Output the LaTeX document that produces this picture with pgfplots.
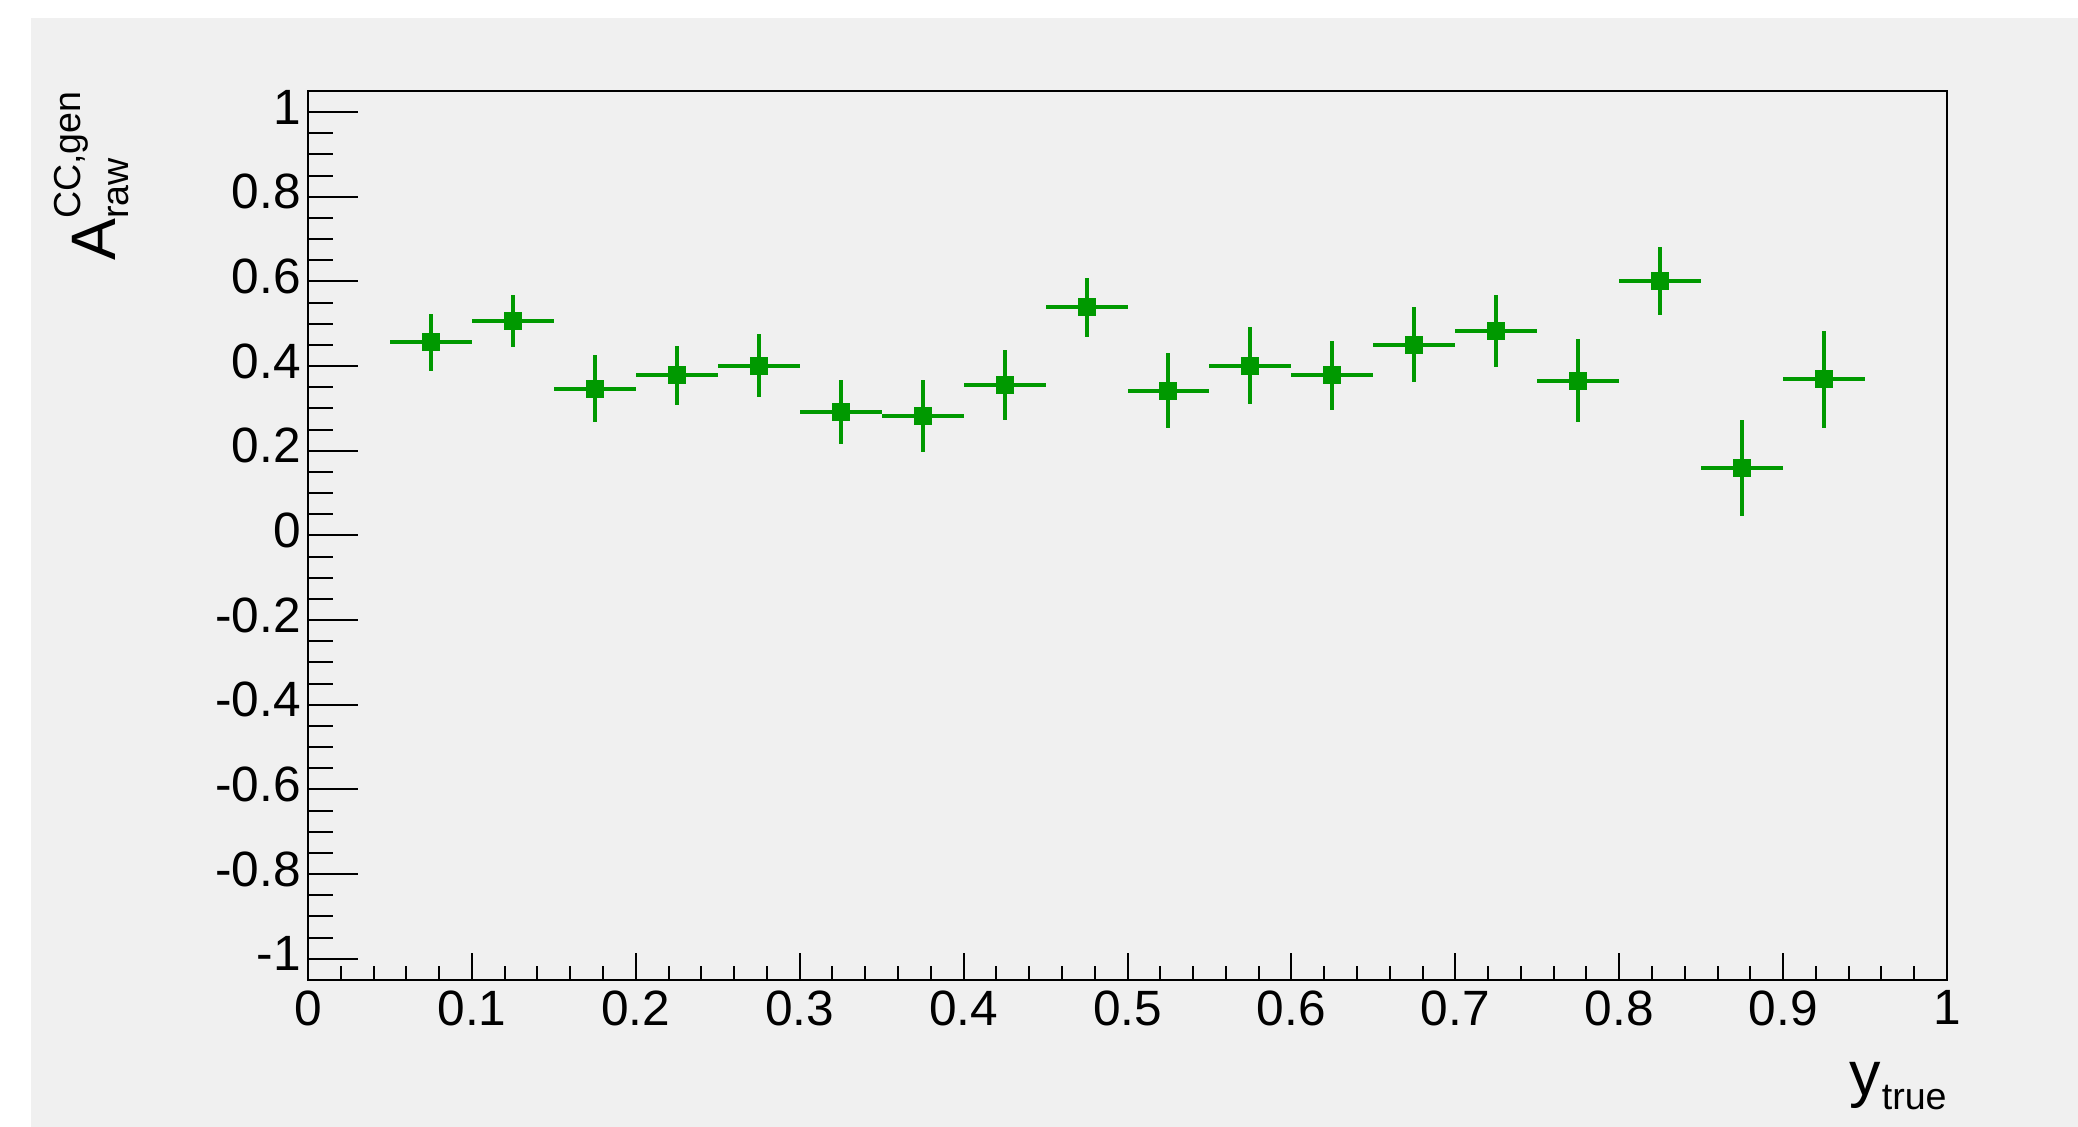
\documentclass[border=0pt]{standalone}
\usepackage{fontspec}
\setmainfont{Liberation Sans}
\usepackage{pgfplots}
\pgfplotsset{compat=1.18}
\usepackage{pgfplotstable}

\definecolor{canvasgray}{RGB}{240,240,240}
\definecolor{rootgreen}{RGB}{0,153,0}

% bin centre, asymmetry, half bin width, statistical error
\pgfplotstableread{
x      y      ex     ey
0.075  0.456  0.025  0.067
0.125  0.507  0.025  0.062
0.175  0.347  0.025  0.080
0.225  0.378  0.025  0.070
0.275  0.401  0.025  0.075
0.325  0.291  0.025  0.076
0.375  0.283  0.025  0.085
0.425  0.355  0.025  0.083
0.475  0.539  0.025  0.069
0.525  0.342  0.025  0.089
0.575  0.401  0.025  0.091
0.625  0.378  0.025  0.082
0.675  0.451  0.025  0.089
0.725  0.484  0.025  0.085
0.775  0.365  0.025  0.098
0.825  0.602  0.025  0.080
0.875  0.159  0.025  0.113
0.925  0.369  0.025  0.114
}\asymdata

\begin{document}
\begin{tikzpicture}
\useasboundingbox (0,0) rectangle (1039pt,563.5pt);
\fill[white] (0,0) rectangle (1039pt,563.5pt);
\fill[canvasgray] (15.5pt,0) rectangle (1039pt,554.5pt);
\begin{axis}[
  at={(154pt,73.5pt)}, anchor=south west,
  scale only axis, width=819.5pt, height=444.5pt,
  xmin=0, xmax=1, ymin=-1.05, ymax=1.05,
  axis line style={line width=1pt, black},
  tick align=inside,
  xtick pos=bottom, ytick pos=left,
  xtick={0,0.1,0.2,0.3,0.4,0.5,0.6,0.7,0.8,0.9,1},
  ytick={-1,-0.8,-0.6,-0.4,-0.2,0,0.2,0.4,0.6,0.8,1},
  minor x tick num=4, minor y tick num=3,
  major x tick style={line width=1pt, black, /pgfplots/major tick length=13.5pt},
  minor x tick style={line width=1pt, black, /pgfplots/minor tick length=6.75pt},
  major y tick style={line width=1pt, black, /pgfplots/major tick length=25pt},
  minor y tick style={line width=1pt, black, /pgfplots/minor tick length=12.5pt},
  /pgf/number format/assume math mode=true,
  ticklabel style={font=\fontsize{24.8}{28}\selectfont, inner sep=0pt},
  xticklabel style={anchor=north, yshift=-5pt},
  yticklabel style={anchor=east, xshift=-3.5pt, yshift=2.5pt},
  xlabel={\fontsize{31.4}{36}\selectfont y\kern0.5pt\raisebox{-7pt}{\fontsize{18.8}{20}\selectfont true}},
  xlabel style={at={(axis description cs:1,-0.1294)}, anchor=base east, inner sep=0pt},
  ylabel={{\fontsize{31.4}{36}\selectfont A}\makebox[0pt][l]{\raisebox{-6.5pt}{\fontsize{18.8}{20}\selectfont raw}}\raisebox{17.5pt}{\fontsize{18.8}{20}\selectfont CC,gen}},
  ylabel style={at={(axis description cs:-0.11775,1)}, anchor=base east, inner sep=0pt},
]
\addplot[
  only marks, color=rootgreen,
  mark=square*, mark size=4.25pt,
  mark options={draw=rootgreen, fill=rootgreen, line width=0pt},
  error bars/.cd,
    x dir=both, x explicit,
    y dir=both, y explicit,
    error mark=none,
    error bar style={line width=2pt, rootgreen},
] table[x=x, y=y, x error=ex, y error=ey] {\asymdata};
\end{axis}
\end{tikzpicture}
\end{document}
